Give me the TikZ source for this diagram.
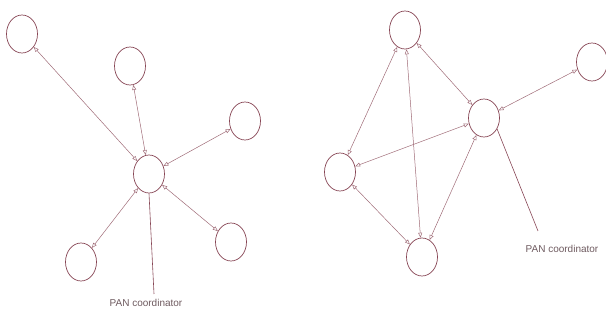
\documentclass[tikz,border=0pt]{standalone}
\usepackage{fontspec}
\setmainfont{Liberation Sans}
\usetikzlibrary{shapes.geometric,arrows.meta}
\definecolor{mar}{RGB}{135,70,85}
\definecolor{lbl}{RGB}{110,90,95}
\tikzset{
  dev/.style={ellipse,draw=mar,line width=0.7pt,minimum width=31pt,minimum height=38pt,inner sep=0pt},
  link/.style={draw=mar!80,line width=0.5pt,{Triangle[open,length=5pt,width=4pt]}-{Triangle[open,length=5pt,width=4pt]}},
  lead/.style={draw=mar,line width=0.6pt},
  lab/.style={text=lbl,font=\fontsize{10}{12}\selectfont,inner sep=0pt}
}
\begin{document}
\begin{tikzpicture}[x=1pt,y=-1pt]
\useasboundingbox (0,0) rectangle (606,320);
% left star
\node[dev] (c) at (149,174) {};
\node[dev] (a1) at (22,34) {};
\node[dev] (a2) at (130,66) {};
\node[dev] (a3) at (245,121) {};
\node[dev] (a4) at (81,262) {};
\node[dev] (a5) at (231,242) {};
\draw[link] (a1) -- (c);
\draw[link] (a2) -- (c);
\draw[link] (a3) -- (c);
\draw[link] (a4) -- (c);
\draw[link] (a5) -- (c);
\node[lab] (t1) at (146,303) {PAN coordinator};
\coordinate (e1) at (154,294);
\draw[lead] (c.south) -- (e1);
% right mesh
\node[dev] (m) at (484,118) {};
\node[dev] (b1) at (405,30) {};
\node[dev] (b2) at (592,62) {};
\node[dev] (b3) at (340,172) {};
\node[dev] (b4) at (422,257) {};
\draw[link] (b1) -- (b3);
\draw[link] (b1) -- (b4);
\draw[link] (b1) -- (m);
\draw[link] (b3) -- (b4);
\draw[link] (b3) -- (m);
\draw[link] (m) -- (b4);
\draw[link] (m) -- (b2);
\node[lab] (t2) at (562,249) {PAN coordinator};
\coordinate (e2) at (538,231);
\draw[lead] (m.-40) -- (e2);
\end{tikzpicture}
\end{document}
